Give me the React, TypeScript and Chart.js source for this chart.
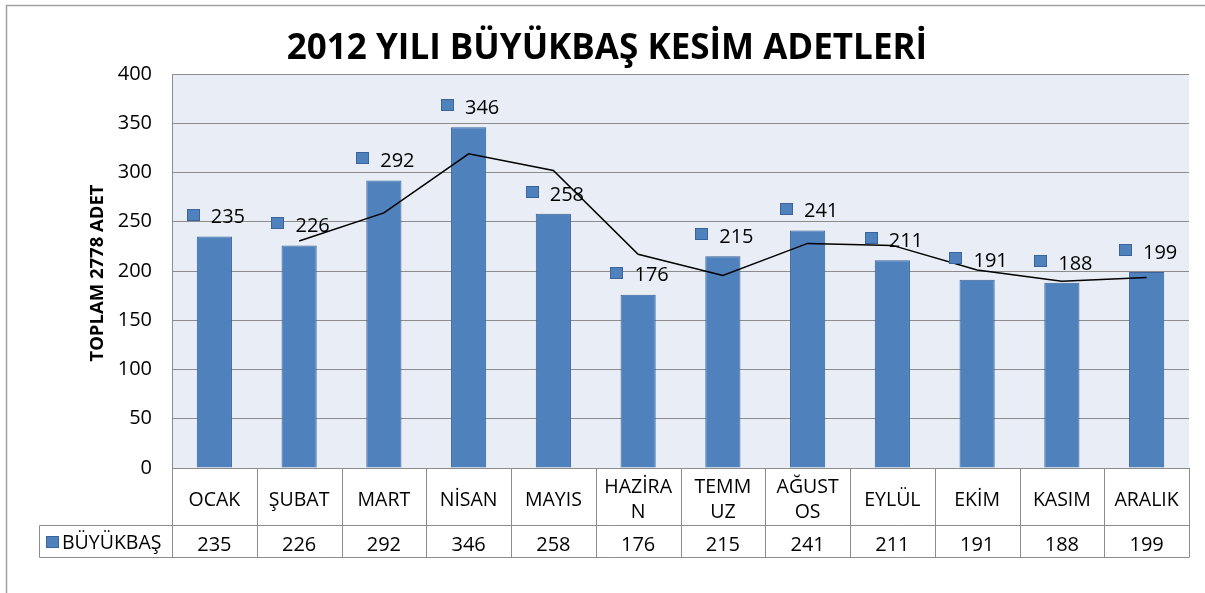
import React, { useEffect, useRef } from "react";
import { Chart, registerables } from "chart.js";

Chart.register(...registerables);

const titleText = "2012 YILI BÜYÜKBAŞ KESİM ADETLERİ";
const yAxisTitle = "TOPLAM 2778 ADET";
const seriesName = "BÜYÜKBAŞ";
const categories: (string | string[])[] = [
  "OCAK",
  "ŞUBAT",
  "MART",
  "NİSAN",
  "MAYIS",
  ["HAZİRA", "N"],
  ["TEMM", "UZ"],
  ["AĞUST", "OS"],
  "EYLÜL",
  "EKİM",
  "KASIM",
  "ARALIK",
];
const values = [235, 226, 292, 346, 258, 176, 215, 241, 211, 191, 188, 199];
const trendValues = [null, 230.5, 259, 319, 302, 217, 195.5, 228, 226, 201, 189.5, 193.5];
const yMin = 0;
const yMax = 400;
const yStep = 50;

const FONT = "'Open Sans', sans-serif";
const BAR_FILL = "#4F81BD";
const BAR_BORDER = "#3A649C";
const GRID = "#8C8C8C";
const TABLE_LINE = "#8C8C8C";
const PLOT_BG = "#E9EDF5";

const decorPlugin = {
  id: "decor",
  beforeDraw(chart: any) {
    const ctx = chart.ctx;
    const { left, right, top, bottom } = chart.chartArea;
    ctx.save();
    ctx.fillStyle = "#ffffff";
    ctx.fillRect(0, 0, chart.width, chart.height);
    // outer chart border
    ctx.strokeStyle = "#A0A0A0";
    ctx.lineWidth = 1.5;
    ctx.beginPath();
    ctx.moveTo(6.5, chart.height + 2);
    ctx.lineTo(6.5, 5.5);
    ctx.lineTo(chart.width + 2, 5.5);
    ctx.stroke();
    // plot background
    ctx.fillStyle = PLOT_BG;
    ctx.fillRect(left, top, right - left, bottom - top);
    ctx.restore();
  },
  afterDraw(chart: any) {
    const ctx = chart.ctx;
    const { left, right, bottom } = chart.chartArea;
    const xs = chart.scales.x;
    ctx.save();

    // title
    ctx.fillStyle = "#000";
    ctx.font = `bold 35px ${FONT}`;
    ctx.textAlign = "center";
    ctx.textBaseline = "alphabetic";
    ctx.fillText(titleText, 607, 59, 643);

    // y axis title
    ctx.save();
    ctx.translate(98, 273);
    ctx.rotate(-Math.PI / 2);
    ctx.font = `bold 18.5px ${FONT}`;
    ctx.textBaseline = "middle";
    ctx.fillText(yAxisTitle, 0, 0, 178);
    ctx.restore();

    // data labels with legend key
    const meta = chart.getDatasetMeta(1);
    ctx.font = `20px ${FONT}`;
    ctx.textAlign = "left";
    ctx.textBaseline = "middle";
    meta.data.forEach((el: any, i: number) => {
      const txt = String(values[i]);
      const tw = ctx.measureText(txt).width;
      const total = 13 + 11 + tw;
      const sx = el.x + 1.5 - total / 2;
      const cy = el.y - 19;
      ctx.fillStyle = BAR_FILL;
      ctx.fillRect(Math.round(sx), Math.round(cy - 9), 13, 12);
      ctx.strokeStyle = BAR_BORDER;
      ctx.lineWidth = 1;
      ctx.strokeRect(Math.round(sx) + 0.5, Math.round(cy - 9) + 0.5, 12, 11);
      ctx.fillStyle = "#000";
      ctx.fillText(txt, sx + 24, cy);
    });

    // data table
    const n = categories.length;
    const colW = (right - left) / n;
    const catTop = bottom;
    const catBottom = 525.5;
    const valBottom = 557.5;
    const legendLeft = 39.5;
    ctx.strokeStyle = TABLE_LINE;
    ctx.lineWidth = 1;
    ctx.beginPath();
    ctx.moveTo(legendLeft, catBottom);
    ctx.lineTo(right, catBottom);
    ctx.moveTo(legendLeft, valBottom);
    ctx.lineTo(right, valBottom);
    ctx.moveTo(legendLeft, catBottom);
    ctx.lineTo(legendLeft, valBottom);
    for (let i = 0; i <= n; i++) {
      const x = Math.round(left + i * colW) + 0.5;
      ctx.moveTo(x, catTop);
      ctx.lineTo(x, valBottom);
    }
    ctx.stroke();

    ctx.fillStyle = "#000";
    ctx.textAlign = "center";
    ctx.textBaseline = "middle";
    categories.forEach((c, i) => {
      const cx = xs.getPixelForValue(i);
      ctx.font = `19.5px ${FONT}`;
      if (Array.isArray(c)) {
        ctx.fillText(c[0], cx, 487.5);
        ctx.fillText(c[1], cx, 512.5);
      } else {
        ctx.fillText(c, cx, 500);
      }
      ctx.font = `20px ${FONT}`;
      ctx.fillText(String(values[i]), cx, 545);
    });

    // legend key in table
    ctx.fillStyle = BAR_FILL;
    ctx.fillRect(46, 536, 13, 12);
    ctx.strokeStyle = BAR_BORDER;
    ctx.strokeRect(46.5, 536.5, 12, 11);
    ctx.fillStyle = "#000";
    ctx.textAlign = "left";
    ctx.font = `19.5px ${FONT}`;
    ctx.fillText(seriesName, 62, 543, 100);

    ctx.restore();
  },
};

export default function App() {
  const ref = useRef<HTMLCanvasElement | null>(null);
  useEffect(() => {
    if (!ref.current) return;
    const chart = new Chart(ref.current, {
      type: "bar",
      data: {
        labels: categories as any,
        datasets: [
          {
            type: "line",
            label: "trend",
            data: trendValues as any,
            borderColor: "#000",
            borderWidth: 1.5,
            pointRadius: 0,
            tension: 0,
            fill: false,
            spanGaps: false,
            order: 0,
          } as any,
          {
            type: "bar",
            label: seriesName,
            data: values,
            backgroundColor: BAR_FILL,
            borderColor: BAR_BORDER,
            borderWidth: 1,
            barPercentage: 0.415,
            categoryPercentage: 1,
            order: 1,
          },
        ],
      },
      options: {
        responsive: false,
        animation: false,
        devicePixelRatio: 1,
        layout: { padding: { left: 0, right: 16, top: 74, bottom: 593 - 468 } },
        plugins: {
          legend: { display: false },
          tooltip: { enabled: false },
          title: { display: false },
        },
        scales: {
          x: { display: false },
          y: {
            min: yMin,
            max: yMax,
            ticks: {
              stepSize: yStep,
              color: "#000",
              font: { family: FONT, size: 20 },
              padding: 20,
            },
            grid: { color: GRID, drawTicks: false, lineWidth: 1 },
            border: { display: true, color: GRID },
            afterFit: (s: any) => {
              s.width = 172;
            },
          },
        },
      },
      plugins: [decorPlugin],
    });
    return () => chart.destroy();
  }, []);
  return (
    <div style={{ position: "absolute", left: 0, top: 0, width: 1205, height: 593 }}>
      <canvas ref={ref} width={1205} height={593} style={{ display: "block" }} />
    </div>
  );
}
